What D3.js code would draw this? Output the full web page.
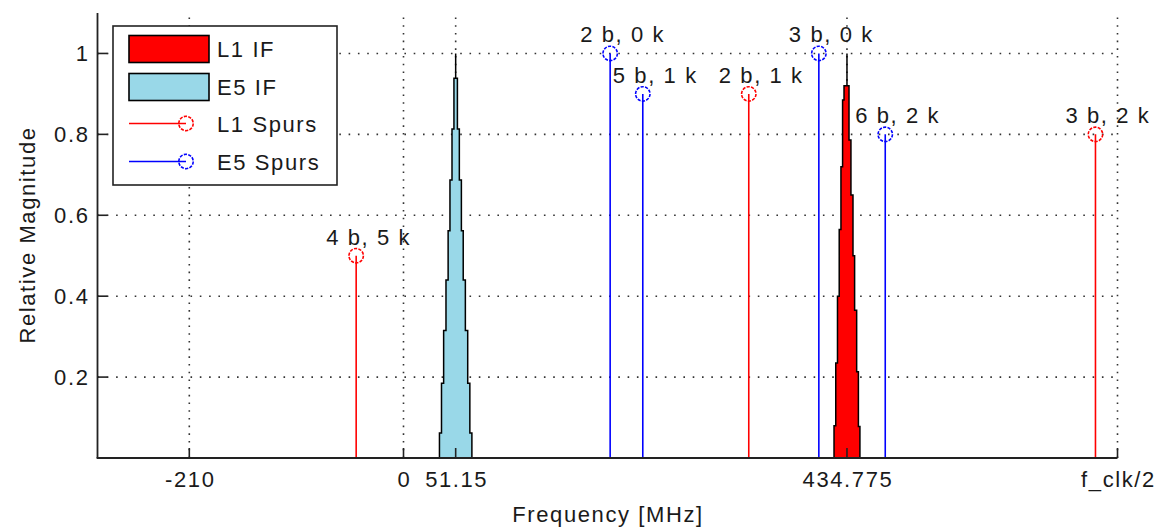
<!DOCTYPE html>
<html><head><meta charset="utf-8">
<script src="https://cdn.jsdelivr.net/npm/d3@7"></script>
<style>
body{margin:0;background:#fff}
text{font-family:"Liberation Sans",Arial,sans-serif;font-size:22px;letter-spacing:1.6px;fill:#1a1a1a}
</style>
</head><body><svg id="c" width="1157" height="530"></svg>
<script>
// ---- data ----
const xTickValues = [-210, 0, 51.15, 434.775, 700];
const xTickLabels = ["-210", "0", "51.15", "434.775", "f_clk/2"];
const yTickValues = [0.2, 0.4, 0.6, 0.8, 1];
const yTickLabels = ["0.2", "0.4", "0.6", "0.8", "1"];

const e5Freq = 51.15;
const e5StepLevels = [0.062, 0.185, 0.315, 0.44, 0.562, 0.687, 0.813, 0.939];
const e5StepHalfWidths = [15.9, 13.9, 11.8, 9.5, 7.4, 5.6, 3.6, 1.7];

const l1Freq = 434.775;
const l1LeftOffsets = [-12.7, -11.0, -9.3, -7.6, -5.9, -4.3, -2.9];
const l1LeftLevels = [0.08, 0.235, 0.40, 0.565, 0.72, 0.885, 0.92];
const l1RightOffsets = [12.7, 11.2, 9.5, 7.5, 5.9, 3.9, 2.0];
const l1RightLevels = [0.078, 0.213, 0.365, 0.50, 0.65, 0.786, 0.92];
const peakTop = 1.0;

const l1SpurFreqs = [-46.4, 338.5, 678.4];
const l1SpurMags = [0.5, 0.9, 0.8];
const l1SpurLabels = ["4 b, 5 k", "2 b, 1 k", "3 b, 2 k"];

const e5SpurFreqs = [202.6, 234.6, 407.2, 472.3];
const e5SpurMags = [1.0, 0.9, 1.0, 0.8];
const e5SpurLabels = ["2 b, 0 k", "5 b, 1 k", "3 b, 0 k", "6 b, 2 k"];

const legendLabels = ["L1 IF", "E5 IF", "L1 Spurs", "E5 Spurs"];

// ---- layout ----
const svg = d3.select("#c");
const L = 97.5, R = 1117.5, T = 13, B = 458;
const x = d3.scaleLinear().domain([-300, 700]).range([L, R]);
const y = d3.scaleLinear().domain([0, 1.1]).range([B, T]);
const RED = "#ff0000", BLUE = "#0000ff", LBLUE = "#99d8e8", AX = "#222";

// grid
const grid = svg.append("g");
grid.selectAll("line.gx").data(xTickValues).join("line")
  .attr("x1", d => x(d)).attr("x2", d => x(d)).attr("y1", B).attr("y2", T)
  .attr("stroke", "#333").attr("stroke-width", 1.6).attr("stroke-dasharray", "1.6,6.1");
grid.selectAll("line.gy").data(yTickValues).join("line")
  .attr("x1", L).attr("x2", R).attr("y1", d => y(d)).attr("y2", d => y(d))
  .attr("stroke", "#333").attr("stroke-width", 1.6).attr("stroke-dasharray", "1.6,7.7");

// peaks
function side(offs, levs) {
  const pts = [];
  offs.forEach((o, i) => { pts.push([o, i === 0 ? 0 : levs[i - 1]]); pts.push([o, levs[i]]); });
  pts.push([0, levs[levs.length - 1]]);
  return pts;
}
function peakPoints(c, lo, ll, ro, rl) {
  const left = side(lo, ll), right = side(ro, rl).reverse();
  return left.concat([[0, peakTop]], right).map(p => [c + p[0], p[1]]);
}
const line = d3.line().x(d => x(d[0])).y(d => y(d[1]));
const e5Pts = peakPoints(e5Freq, e5StepHalfWidths.map(v => -v), e5StepLevels, e5StepHalfWidths, e5StepLevels);
const l1Pts = peakPoints(l1Freq, l1LeftOffsets, l1LeftLevels, l1RightOffsets, l1RightLevels);
svg.append("path").attr("d", line(e5Pts) + "Z").attr("fill", LBLUE).attr("stroke", "#000").attr("stroke-width", 1.5);
svg.append("path").attr("d", line(l1Pts) + "Z").attr("fill", RED).attr("stroke", "#000").attr("stroke-width", 1.5);

// spurs
function spurs(freqs, mags, labels, color) {
  const g = svg.append("g");
  const data = freqs.map((f, i) => ({ f, m: mags[i], t: labels[i] }));
  g.selectAll("line").data(data).join("line")
    .attr("x1", d => x(d.f)).attr("x2", d => x(d.f)).attr("y1", y(0)).attr("y2", d => y(d.m))
    .attr("stroke", color).attr("stroke-width", 1.6);
  g.selectAll("circle").data(data).join("circle")
    .attr("cx", d => x(d.f)).attr("cy", d => y(d.m)).attr("r", 7.2)
    .attr("fill", "none").attr("stroke", color).attr("stroke-width", 1.6).attr("stroke-dasharray", "3.2,1.3");
  g.selectAll("text").data(data).join("text")
    .attr("x", d => x(d.f) - 30).attr("y", d => y(d.m) - 11).text(d => d.t);
}
spurs(l1SpurFreqs, l1SpurMags, l1SpurLabels, RED);
spurs(e5SpurFreqs, e5SpurMags, e5SpurLabels, BLUE);

// axes
const ax = svg.append("g");
ax.append("line").attr("x1", L).attr("x2", L).attr("y1", T).attr("y2", B).attr("stroke", AX).attr("stroke-width", 1.8);
ax.append("line").attr("x1", L - 0.9).attr("x2", R).attr("y1", B).attr("y2", B).attr("stroke", AX).attr("stroke-width", 1.8);
ax.selectAll("line.tx").data(xTickValues).join("line")
  .attr("x1", d => x(d)).attr("x2", d => x(d)).attr("y1", B).attr("y2", B - 10).attr("stroke", AX).attr("stroke-width", 1.6);
ax.selectAll("line.ty").data(yTickValues).join("line")
  .attr("x1", L).attr("x2", L + 10).attr("y1", d => y(d)).attr("y2", d => y(d)).attr("stroke", AX).attr("stroke-width", 1.6);
ax.selectAll("text.tx").data(xTickValues).join("text")
  .attr("x", (d, i) => x(d) + 1).attr("y", B + 29).attr("text-anchor", "middle").text((d, i) => xTickLabels[i]);
ax.selectAll("text.ty").data(yTickValues).join("text")
  .attr("x", L - 8).attr("y", d => y(d) + 8).attr("text-anchor", "end").text((d, i) => yTickLabels[i]);
svg.append("text").attr("x", 608).attr("y", 522).attr("text-anchor", "middle").text("Frequency [MHz]");
svg.append("text").attr("transform", "translate(35,235) rotate(-90)").attr("text-anchor", "middle").text("Relative Magnitude");

// legend
const lg = svg.append("g");
lg.append("rect").attr("x", 113).attr("y", 26).attr("width", 224).attr("height", 159)
  .attr("fill", "#fff").attr("stroke", AX).attr("stroke-width", 1.6);
const rowY = [49, 87, 123.5, 161.5];
[RED, LBLUE].forEach((c, i) => {
  lg.append("rect").attr("x", 129).attr("y", rowY[i] - 13.5).attr("width", 80).attr("height", 27)
    .attr("fill", c).attr("stroke", "#000").attr("stroke-width", 1.6);
});
[RED, BLUE].forEach((c, i) => {
  const yy = rowY[i + 2];
  lg.append("line").attr("x1", 129).attr("x2", 186).attr("y1", yy).attr("y2", yy).attr("stroke", c).attr("stroke-width", 1.6);
  lg.append("circle").attr("cx", 186).attr("cy", yy).attr("r", 7.2).attr("fill", "none")
    .attr("stroke", c).attr("stroke-width", 1.6).attr("stroke-dasharray", "3.2,1.3");
});
legendLabels.forEach((t, i) => {
  lg.append("text").attr("x", 217).attr("y", rowY[i] + 8).text(t);
});
</script>
</body></html>
